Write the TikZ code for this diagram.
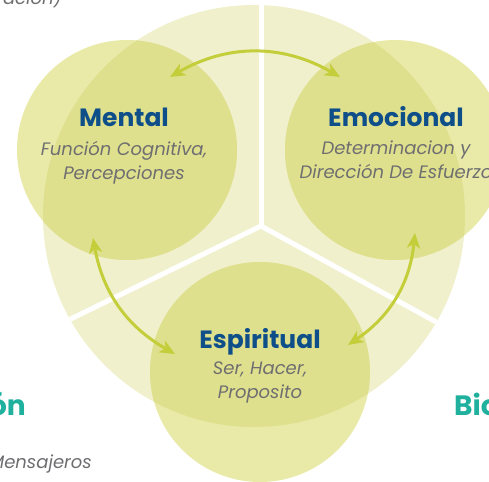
\documentclass[tikz,border=0pt]{standalone}
\usepackage{fontspec}
\setmainfont{Poppins}
\usetikzlibrary{arrows.meta, positioning}
\definecolor{paleyellow}{RGB}{240,240,204}
\definecolor{lightolive}{RGB}{233,234,168}
\definecolor{darkolive}{RGB}{223,224,141}
\definecolor{arrowgreen}{RGB}{196,206,58}
\definecolor{titleblue}{RGB}{14,79,138}
\definecolor{descgray}{RGB}{110,110,113}
\definecolor{tealgreen}{RGB}{32,176,158}
\tikzstyle{outer} = [circle, fill=paleyellow, minimum size=422pt, inner sep=0pt]
\tikzstyle{aspect} = [circle, fill=lightolive, minimum size=220pt, inner sep=0pt]
\tikzstyle{divider} = [draw=white, line width=5pt]
\tikzstyle{link} = [{Stealth[length=15pt,width=13pt,inset=4pt]}-{Stealth[length=15pt,width=13pt,inset=4pt]},
    draw=arrowgreen, line width=3pt]
\tikzstyle{title} = [text=titleblue, font=\fontsize{25pt}{28pt}\selectfont\bfseries, inner sep=0pt]
\tikzstyle{desc} = [text=descgray, font=\fontsize{18pt}{24pt}\selectfont\itshape, align=center,
    inner sep=0pt]
\tikzstyle{side} = [text=tealgreen, font=\fontsize{28pt}{30pt}\selectfont\bfseries, inner sep=0pt]

\begin{document}
\begin{tikzpicture}[x=1pt, y=-1pt]
    \useasboundingbox (0,0) rectangle (489,481);

    % Place the circles
    \node [outer] (whole) at (254,216) {};
    \coordinate (hub) at (261,226);
    \begin{scope}
      \clip (whole.center) circle [radius=211pt];
      \draw [divider] (hub) -- (261,0);
      \draw [divider] (hub) -- (40,334);
      \draw [divider] (hub) -- (480,346);
    \end{scope}
    \node [aspect] (mental) at (127,150) {};
    \node [aspect] (emocional) at (395,150) {};
    \node [aspect] (espiritual) at (260,372) {};
    \begin{scope}
      \clip (whole.center) circle [radius=211pt];
      \fill [darkolive] (mental.center) circle [radius=110pt];
      \fill [darkolive] (emocional.center) circle [radius=110pt];
      \fill [darkolive] (espiritual.center) circle [radius=110pt];
    \end{scope}

    % Place the labels
    \node [title, anchor=base] (mentaltitle) at (124,127) {Mental};
    \node [desc, below=14pt of mentaltitle.base] (mentaldesc) {Función Cognitiva,\\Percepciones};
    \node [title, anchor=base] (emotitle) at (396,127) {Emocional};
    \node [desc, below=14pt of emotitle.base] (emodesc) {Determinacion y\\Dirección De Esfuerzo};
    \node [title, anchor=base] (espititle) at (260,348) {Espiritual};
    \node [desc, below=14pt of espititle.base] (espidesc) {Ser, Hacer,\\Proposito};
    \node [side, anchor=base east] (leftname) at (26,415) {ón};
    \node [side, anchor=base west] (rightname) at (454,415) {Bio};
    \node [desc, anchor=base east] (leftnote) at (92,468) {Mensajeros};
    \node [desc, anchor=base east] (topnote) at (62,5) {racion)};

    % Connect the circles
    \coordinate (m-top) at (170,77);
    \coordinate (e-top) at (340,77);
    \coordinate (m-low) at (93,238);
    \coordinate (s-left) at (175,354);
    \coordinate (e-low) at (415,233);
    \coordinate (s-right) at (348,345);
    \draw [link] (m-top) to [bend left=30] (e-top);
    \draw [link] (m-low) to [bend right=25] (s-left);
    \draw [link] (e-low) to [bend left=25] (s-right);
\end{tikzpicture}
\end{document}
